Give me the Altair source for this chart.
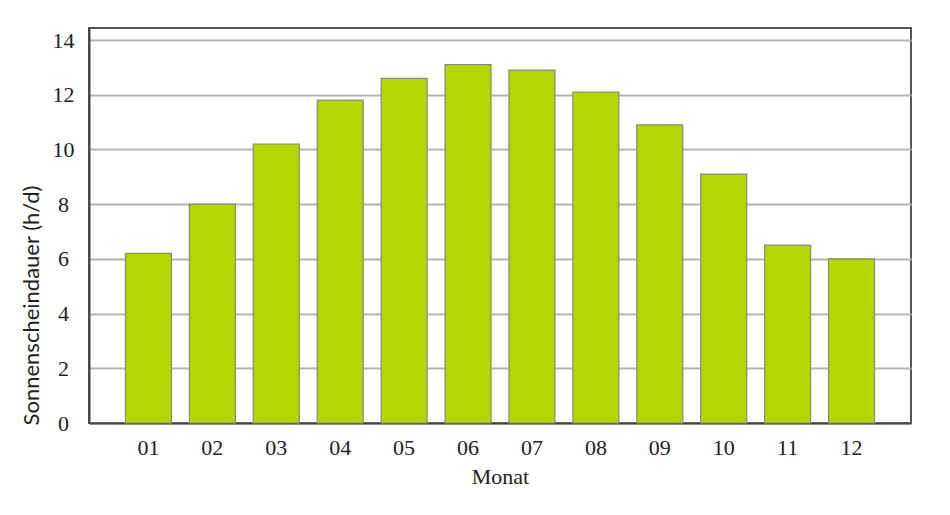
import altair as alt
import pandas as pd

months = ["01", "02", "03", "04", "05", "06", "07", "08", "09", "10", "11", "12"]
hours = [6.2, 8.0, 10.2, 11.8, 12.6, 13.1, 12.9, 12.1, 10.9, 9.1, 6.5, 6.0]

df = pd.DataFrame({"Monat": months, "Stunden": hours})

chart = alt.Chart(df).mark_bar(
    color="#b3d600", stroke="#8a8a7a", strokeWidth=1.2
).encode(
    x=alt.X("Monat:N", sort=months, title="Monat",
            scale=alt.Scale(paddingInner=0.28, paddingOuter=0.57),
            axis=alt.Axis(labelAngle=0, ticks=False, labelPadding=14,
                          labelFont="Liberation Serif", labelFontSize=22,
                          labelColor="#222", titleFont="Liberation Serif",
                          titleFontSize=22, titleFontWeight="normal",
                          titleColor="#222", titlePadding=8,
                          domainColor="#444", domainWidth=2, grid=False)),
    y=alt.Y("Stunden:Q", title="Sonnenscheindauer (h/d)",
            scale=alt.Scale(domain=[0, 14.44], nice=False),
            axis=alt.Axis(values=[0, 2, 4, 6, 8, 10, 12, 14], ticks=False,
                          labelPadding=26, labelAlign="center",
                          labelFont="Liberation Serif",
                          labelFontSize=22, labelColor="#222",
                          titleFont="Lato", titleFontSize=22,
                          titleFontWeight="normal", titleColor="#222",
                          titleAngle=270, titleAlign="center",
                          titleBaseline="middle", titleX=-58, titleY=277,
                          domainColor="#444", domainWidth=2,
                          grid=True, gridColor="#b4b4b4", gridWidth=2)),
).properties(
    width=822, height=395,
    autosize=alt.AutoSizeParams(type="none"),
    padding={"left": 81, "top": 20, "right": 20, "bottom": 80},
).configure_view(
    stroke="#555", strokeWidth=2
)

chart.save("out.html", embed_options={"renderer": "svg", "actions": False})
